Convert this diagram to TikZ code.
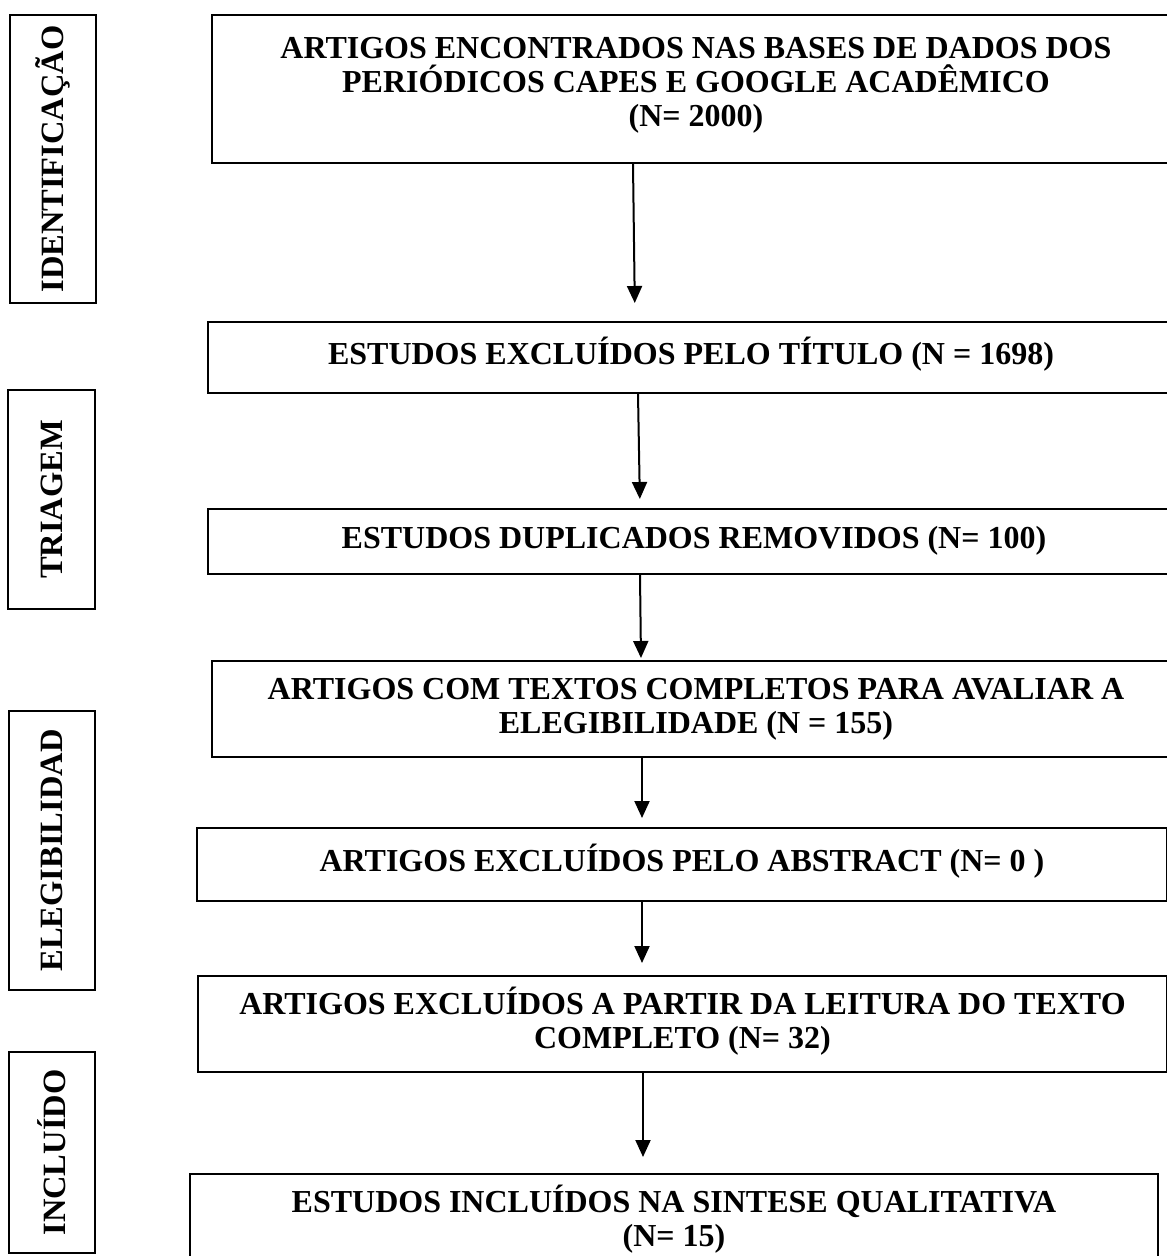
\documentclass[tikz,border=0pt]{standalone}
\usepackage{fontspec}
\setmainfont{Liberation Serif}
\usepackage{tikz}
\usetikzlibrary{positioning,arrows.meta,calc}
\tikzset{
    >={Triangle[width=15pt,length=17pt]},
    etapa/.style={
        rectangle,
        draw=black, line width=2pt,
        inner sep=0pt,
        align=center,
        anchor=north west,
        text height=21pt, text depth=7pt,
        font={\bfseries\fontsize{32pt}{34pt}\selectfont}
    },
    duas/.style={text height=55pt},
    tres/.style={text height=89pt},
    fase/.style={
        rectangle,
        draw=black, line width=2pt,
        inner sep=0pt,
        rotate=90,
        font={\bfseries\fontsize{32.5pt}{36pt}\selectfont}
    },
    seta/.style={draw, line width=2pt, ->},
}
\begin{document}
\begin{tikzpicture}[x=1pt,y=-1pt]
        \useasboundingbox (0,0) rectangle (1167,1256);
        \clip (0,0) rectangle (1167,1256);

        % Phases on the left side
        \node[fase, minimum width=288pt, minimum height=86pt] (fid)  at (53,159)   {IDENTIFICAÇÃO};
        \node[fase, minimum width=219pt, minimum height=87pt] (ftri) at (51.5,499.5) {TRIAGEM};
        \node[fase, minimum width=279pt, minimum height=86pt] (fele) at (52,850.5) {ELEGIBILIDAD};
        \node[fase, minimum width=201pt, minimum height=86pt] (finc) at (52,1152.5) {INCLUÍDO};

        % Steps of the selection
        \node[etapa, tres, text depth=15pt, minimum width=968pt, minimum height=148pt] (b1) at (211,14)
            {ARTIGOS ENCONTRADOS NAS BASES DE DADOS DOS\\PERIÓDICOS CAPES E GOOGLE ACADÊMICO\\(N= 2000)};
        \node[etapa, minimum width=966pt, minimum height=71pt] (b2) at (207,321)
            {ESTUDOS EXCLUÍDOS PELO TÍTULO (N = 1698)};
        \node[etapa, minimum width=972pt, minimum height=65pt] (b3) at (207,508)
            {ESTUDOS DUPLICADOS REMOVIDOS (N= 100)};
        \node[etapa, duas, minimum width=968pt, minimum height=96pt] (b4) at (211,660)
            {ARTIGOS COM TEXTOS COMPLETOS PARA AVALIAR A\\ELEGIBILIDADE (N = 155)};
        \node[etapa, minimum width=970pt, minimum height=73pt] (b5) at (196,827)
            {ARTIGOS EXCLUÍDOS PELO ABSTRACT (N= 0 )};
        \node[etapa, duas, minimum width=969pt, minimum height=96pt] (b6) at (197,975)
            {ARTIGOS EXCLUÍDOS A PARTIR DA LEITURA DO TEXTO\\COMPLETO (N= 32)};
        \node[etapa, duas, text depth=21pt, minimum width=968pt, minimum height=111pt] (b7) at (189,1173)
            {ESTUDOS INCLUÍDOS NA SINTESE QUALITATIVA\\(N= 15)};

        % Arrows between the steps
        \draw[seta, shorten >=18pt] (633,0 |- b1.south) -- (635,0 |- b2.north);
        \draw[seta, shorten >=9pt]  (638,0 |- b2.south) -- (640,0 |- b3.north);
        \draw[seta, shorten >=2pt]  (640,0 |- b3.south) -- (641,0 |- b4.north);
        \draw[seta, shorten >=9pt]  (642,0 |- b4.south) -- (642,0 |- b5.north);
        \draw[seta, shorten >=12pt] (642,0 |- b5.south) -- (642,0 |- b6.north);
        \draw[seta, shorten >=16pt] (643,0 |- b6.south) -- (643,0 |- b7.north);

\end{tikzpicture}
\end{document}
